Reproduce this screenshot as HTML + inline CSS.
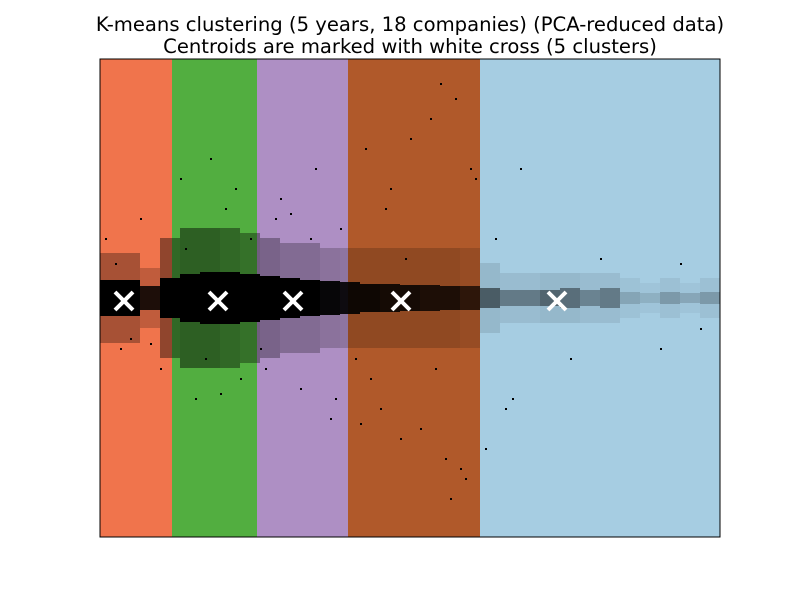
<!DOCTYPE html>
<html><head><meta charset="utf-8"><style>
body{margin:0;background:#fff;}
svg{display:block;font-family:"DejaVu Sans","Liberation Sans",sans-serif;}
</style></head><body>
<svg id="chart" width="800" height="597">
<text x="410" y="31" text-anchor="middle" font-size="19.6">K-means clustering (5 years, 18 companies) (PCA-reduced data)</text>
<text x="410" y="53" text-anchor="middle" font-size="19.6">Centroids are marked with white cross (5 clusters)</text>
<g id="regions"></g><g id="band"></g><g id="dots"></g><g id="cents"></g>
<rect x="100" y="59" width="620" height="478" fill="none" stroke="#000" stroke-width="1"/>
</svg>
<script>
// data (x in data units 0..620, y in data units -239..239)
const regionBounds = [0, 72, 157, 248, 380, 620];
const regionColors = ["#f0744c", "#52ae40", "#ae8fc4", "#b0592a", "#a6cde2"];
const centroidX = [24, 118, 193, 301, 457];
const centroidY = [0, 0, 0, 0, 0];
const binCenters = [10,30,50,70,90,110,130,150,170,190,210,230,250,270,290,310,330,350,370,390,410,430,450,470,490,510,530,550,570,590,610];
const bandHalf = [18,18,12,20,24,26,26,24,22,20,18,17,16,14,14,13,13,12,12,10,8,8,8,10,8,10,6,5,6,5,6];
const bandDensity = [1,1,0.85,1,1,1,1,1,1,1,1,0.95,0.9,0.9,0.85,0.85,0.8,0.8,0.7,0.5,0.35,0.35,0.45,0.4,0.3,0.35,0.15,0.1,0.2,0.15,0.2];
const haloHalf = [45,45,30,60,70,70,70,65,60,55,55,50,50,50,50,50,50,50,50,35,25,25,25,25,25,25,20,15,20,15,20];
const haloDensity = [0.3,0.3,0.2,0.4,0.45,0.45,0.4,0.35,0.3,0.25,0.25,0.2,0.18,0.18,0.18,0.18,0.18,0.18,0.14,0.1,0.08,0.08,0.1,0.1,0.08,0.08,0.05,0.04,0.06,0.04,0.06];
const outlierX = [5,20,40,60,80,95,110,125,140,150,165,180,200,215,230,240,255,265,280,290,300,310,320,330,345,355,365,375,385,395,405,30,85,105,135,160,175,210,235,270,285,305,335,350,370,15,50,120,190,260,340,360,412,420,470,500,560,580,600];
const outlierY = [60,-50,80,-70,120,-100,140,90,-80,60,-70,100,-90,130,-120,70,-60,150,-110,110,-140,160,-130,180,-160,200,-180,120,-150,60,-110,-40,50,-60,110,-50,80,60,-100,-80,90,40,-70,-200,130,35,-45,-95,85,-125,215,-170,-100,130,-60,40,-50,35,-30];
const X = v => 100 + v, Y = v => 298 - v;
const NS = "http://www.w3.org/2000/svg";
function mk(t, a, p){const e=document.createElementNS(NS,t);for(const k in a)e.setAttribute(k,a[k]);p.appendChild(e);return e;}
const gR=document.getElementById("regions"), gB=document.getElementById("band"), gD=document.getElementById("dots"), gC=document.getElementById("cents");
for(let i=0;i<regionColors.length;i++){
  const r=mk("rect",{x:X(regionBounds[i]),y:59,width:X(regionBounds[i+1])-X(regionBounds[i]),height:478,fill:regionColors[i]},gR);
  
  
}
for(let i=0;i<binCenters.length;i++){
  const h=mk("rect",{x:X(binCenters[i]-10),y:Y(haloHalf[i]),width:20,height:2*haloHalf[i],fill:"#000","fill-opacity":haloDensity[i]},gB);
  
  
  const b=mk("rect",{x:X(binCenters[i]-10),y:Y(bandHalf[i]),width:20,height:2*bandHalf[i],fill:"#000","fill-opacity":bandDensity[i]},gB);
  
  
}
for(let i=0;i<outlierX.length;i++){
  const d=mk("rect",{x:X(outlierX[i]),y:Y(outlierY[i]),width:2,height:2,fill:"#000"},gD);
  
  
}
for(let i=0;i<centroidX.length;i++){
  const cx=X(centroidX[i]), cy=Y(centroidY[i])+3;
  const g=mk("g",{stroke:"#fff","stroke-width":4},gC);
  
  
  mk("line",{x1:cx-9,y1:cy-9,x2:cx+9,y2:cy+9},g);
  mk("line",{x1:cx-9,y1:cy+9,x2:cx+9,y2:cy-9},g);
}
</script>
</body></html>
